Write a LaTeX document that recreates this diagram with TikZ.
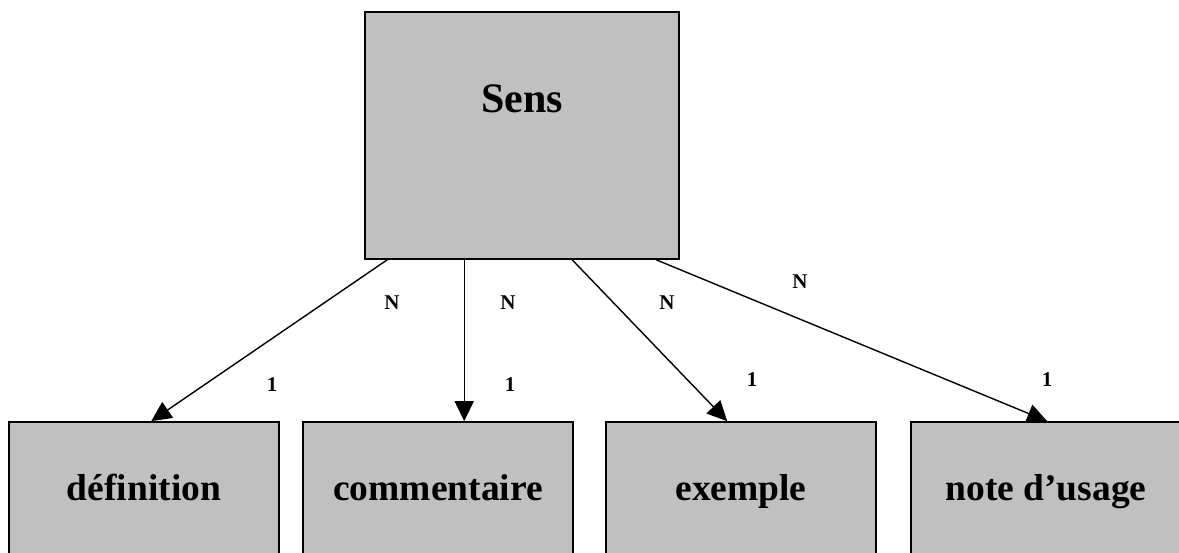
\documentclass[tikz,border=0pt]{standalone}
\usepackage{fontspec}
\setmainfont{Liberation Serif}
\usetikzlibrary{arrows.meta}

\begin{document}
\begin{tikzpicture}[x=1pt,y=-1pt,
  entity/.style={draw=black, line width=1.6pt, fill={rgb,255:red,192;green,192;blue,192},
    rectangle, inner sep=0pt, font=\bfseries\fontsize{37.5}{40}\selectfont,
    minimum width=270pt, minimum height=140pt, text height=26pt, text depth=10pt},
  rel/.style={line width=1.4pt, -{Triangle[length=20pt,width=19pt]}},
  card/.style={font=\bfseries\fontsize{21}{24}\selectfont, inner sep=0pt}
]
  \clip (0,0) rectangle (1179,552);
  \fill[white] (0,0) rectangle (1179,552);

  % parent entity
  \node[entity, minimum width=314pt, minimum height=247pt,
        font=\bfseries\fontsize{42}{46}\selectfont, text height=30pt, text depth=77pt]
        (sens) at (522,135.5) {Sens};

  % child entities
  \node[entity] (def) at (144,492) {définition};
  \node[entity] (com) at (438,492) {commentaire};
  \node[entity] (exe) at (741,492) {exemple};
  \node[entity] (note) at (1046,492) {note d’usage};

  % relations
  \draw[rel] ([xshift=23pt]sens.south west)  -- ([xshift=143pt]def.north west);
  \draw[rel] ([xshift=100pt]sens.south west) -- ([xshift=162pt]com.north west);
  \draw[rel] ([xshift=208pt]sens.south west) -- ([xshift=122pt]exe.north west);
  \draw[rel] ([xshift=292pt]sens.south west) -- ([xshift=137pt]note.north west);

  % cardinalities
  \node[card] (n1) at (392,303) {N};
  \node[card] (n2) at (508,303) {N};
  \node[card] (n3) at (667,303) {N};
  \node[card] (n4) at (800,282) {N};
  \node[card] (o1) at (272,385) {1};
  \node[card] (o2) at (510,385) {1};
  \node[card] (o3) at (752,380) {1};
  \node[card] (o4) at (1047,380) {1};
\end{tikzpicture}
\end{document}
